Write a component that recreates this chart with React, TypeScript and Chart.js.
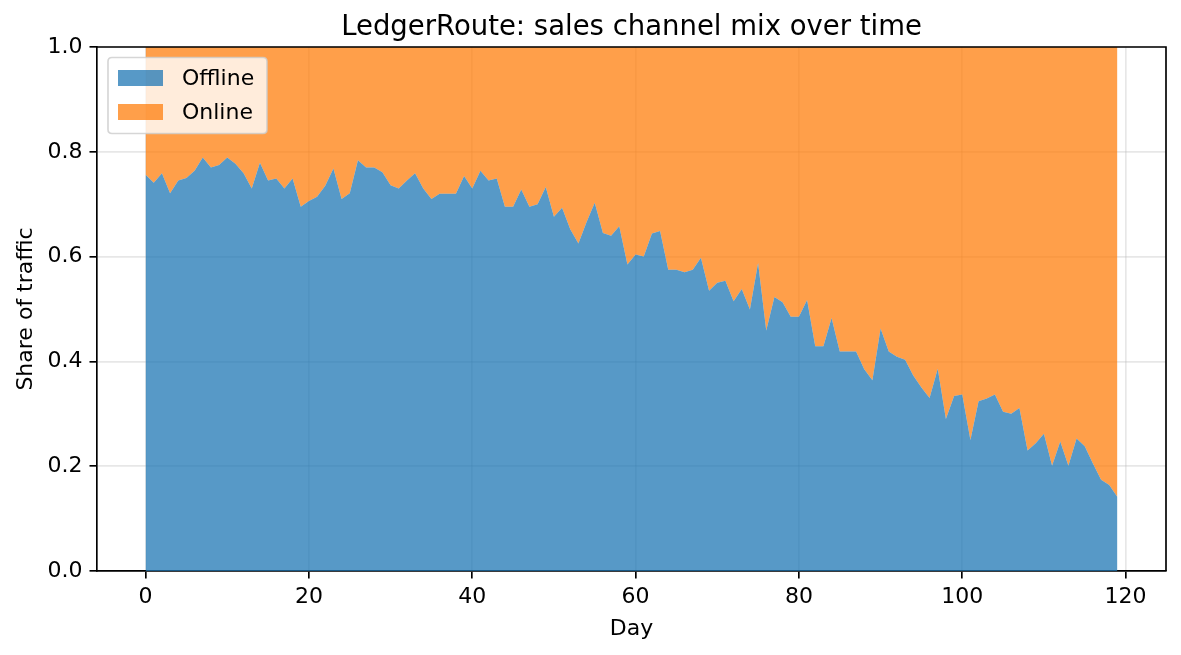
import React, { useEffect, useRef } from "react";
import { Chart, registerables } from "chart.js";

Chart.register(...registerables);

const W = 1181;
const H = 655;
const FONT = "'DejaVu Sans', 'Liberation Sans', sans-serif";
const LABEL_SIZE = 22;
const TITLE_SIZE = 27.5;

const TITLE = "LedgerRoute: sales channel mix over time";
const X_LABEL = "Day";
const Y_LABEL = "Share of traffic";
const SERIES_NAMES = ["Offline", "Online"];

// Day index 0..119
const days: number[] = Array.from({ length: 120 }, (_, i) => i);

// Offline share of traffic per day
const offlineShare: number[] = [
  0.756, 0.741, 0.759, 0.721, 0.745, 0.75, 0.764, 0.789, 0.77, 0.775,
  0.789, 0.777, 0.759, 0.73, 0.779, 0.745, 0.749, 0.73, 0.749, 0.695,
  0.706, 0.714, 0.735, 0.768, 0.71, 0.721, 0.784, 0.77, 0.77, 0.761,
  0.736, 0.73, 0.745, 0.759, 0.73, 0.71, 0.72, 0.72, 0.72, 0.754,
  0.73, 0.764, 0.745, 0.749, 0.695, 0.695, 0.728, 0.695, 0.7, 0.733,
  0.676, 0.693, 0.652, 0.625, 0.666, 0.703, 0.645, 0.64, 0.658, 0.585,
  0.604, 0.6, 0.644, 0.649, 0.575, 0.575, 0.57, 0.575, 0.598, 0.535,
  0.55, 0.554, 0.515, 0.538, 0.499, 0.588, 0.459, 0.523, 0.513, 0.485,
  0.485, 0.517, 0.429, 0.429, 0.483, 0.419, 0.419, 0.419, 0.385, 0.364,
  0.463, 0.419, 0.409, 0.403, 0.373, 0.35, 0.33, 0.386, 0.29, 0.334,
  0.337, 0.25, 0.324, 0.329, 0.337, 0.304, 0.3, 0.311, 0.23, 0.244,
  0.262, 0.201, 0.247, 0.201, 0.253, 0.238, 0.205, 0.174, 0.164, 0.141,
];

// Online share is the remainder of each day's traffic
const onlineShare: number[] = offlineShare.map((v) => 1 - v);

const xTicks: number[] = [0, 20, 40, 60, 80, 100, 120];
const yTicks: number[] = [0, 0.2, 0.4, 0.6, 0.8, 1.0];

const COLORS = ["rgba(31,119,180,0.75)", "rgba(255,127,14,0.75)"];

const frameAndText = {
  id: "frameAndText",
  afterDraw(chart: any) {
    const { ctx, chartArea } = chart;
    const { left, right, top, bottom } = chartArea;
    ctx.save();

    // top and right spines
    ctx.strokeStyle = "#000";
    ctx.lineWidth = 1.67;
    ctx.beginPath();
    ctx.moveTo(left, top);
    ctx.lineTo(right, top);
    ctx.lineTo(right, bottom);
    ctx.stroke();

    ctx.fillStyle = "#000";
    // title
    ctx.font = `${TITLE_SIZE}px ${FONT}`;
    ctx.textAlign = "center";
    ctx.textBaseline = "alphabetic";
    ctx.fillText(TITLE, (left + right) / 2, 34.5);

    // axis labels
    ctx.font = `${LABEL_SIZE}px ${FONT}`;
    ctx.fillText(X_LABEL, (left + right) / 2, 635);
    ctx.save();
    ctx.translate(32, (top + bottom) / 2);
    ctx.rotate(-Math.PI / 2);
    ctx.fillText(Y_LABEL, 0, 0);
    ctx.restore();

    // legend
    const lx = 108, ly = 57.5, lw = 159, lh = 76, r = 4;
    ctx.beginPath();
    ctx.moveTo(lx + r, ly);
    ctx.lineTo(lx + lw - r, ly);
    ctx.quadraticCurveTo(lx + lw, ly, lx + lw, ly + r);
    ctx.lineTo(lx + lw, ly + lh - r);
    ctx.quadraticCurveTo(lx + lw, ly + lh, lx + lw - r, ly + lh);
    ctx.lineTo(lx + r, ly + lh);
    ctx.quadraticCurveTo(lx, ly + lh, lx, ly + lh - r);
    ctx.lineTo(lx, ly + r);
    ctx.quadraticCurveTo(lx, ly, lx + r, ly);
    ctx.closePath();
    ctx.fillStyle = "rgba(255,255,255,0.8)";
    ctx.fill();
    ctx.strokeStyle = "rgba(204,204,204,0.8)";
    ctx.lineWidth = 1.67;
    ctx.stroke();

    const rows = [78, 112];
    SERIES_NAMES.forEach((name, i) => {
      ctx.fillStyle = COLORS[i];
      ctx.fillRect(118, rows[i] - 8, 45, 16);
      ctx.fillStyle = "#000";
      ctx.textAlign = "left";
      ctx.textBaseline = "middle";
      ctx.fillText(name, 182, rows[i] + 1);
    });

    ctx.restore();
  },
};

export default function App() {
  const canvasRef = useRef<HTMLCanvasElement | null>(null);

  useEffect(() => {
    document.body.style.margin = "0";
    const canvas = canvasRef.current;
    if (!canvas) return;

    const chart = new Chart(canvas, {
      type: "line",
      data: {
        datasets: [
          {
            label: SERIES_NAMES[0],
            data: days.map((d, i) => ({ x: d, y: offlineShare[i] })),
            backgroundColor: COLORS[0],
            borderWidth: 0,
            pointRadius: 0,
            fill: "origin",
            tension: 0,
          },
          {
            label: SERIES_NAMES[1],
            data: days.map((d, i) => ({ x: d, y: onlineShare[i] })),
            backgroundColor: COLORS[1],
            borderWidth: 0,
            pointRadius: 0,
            fill: "-1",
            tension: 0,
          },
        ],
      },
      options: {
        responsive: false,
        animation: false,
        devicePixelRatio: 1,
        layout: { padding: { left: 0, right: 15, top: 47, bottom: 0 } },
        plugins: {
          legend: { display: false },
          title: { display: false },
          tooltip: { enabled: false },
        },
        scales: {
          x: {
            type: "linear",
            min: -5.95,
            max: 124.95,
            afterBuildTicks: (scale: any) => {
              scale.ticks = xTicks.map((v) => ({ value: v }));
            },
            afterFit: (scale: any) => {
              scale.height = 84;
            },
            ticks: {
              color: "#000",
              font: { family: FONT, size: LABEL_SIZE },
              padding: 6,
              maxRotation: 0,
              autoSkip: false,
              callback: (v: any) => String(v),
            },
            grid: {
              color: "rgba(176,176,176,0.3)",
              lineWidth: 1.67,
              tickColor: "#000",
              tickLength: 7.5,
              tickWidth: 1.67,
            },
            border: { display: true, color: "#000", width: 1.67 },
          },
          y: {
            stacked: true,
            min: 0,
            max: 1,
            afterBuildTicks: (scale: any) => {
              scale.ticks = yTicks.map((v) => ({ value: v }));
            },
            afterFit: (scale: any) => {
              scale.width = 97;
            },
            ticks: {
              color: "#000",
              font: { family: FONT, size: LABEL_SIZE },
              padding: 7,
              autoSkip: false,
              callback: (v: any) => Number(v).toFixed(1),
            },
            grid: {
              color: "rgba(176,176,176,0.3)",
              lineWidth: 1.67,
              tickColor: "#000",
              tickLength: 7.5,
              tickWidth: 1.67,
            },
            border: { display: true, color: "#000", width: 1.67 },
          },
        },
      },
      plugins: [frameAndText],
    });

    return () => chart.destroy();
  }, []);

  return (
    <div style={{ position: "fixed", left: 0, top: 0, width: W, height: H, background: "#fff" }}>
      <canvas ref={canvasRef} width={W} height={H} style={{ display: "block", width: W, height: H }} />
    </div>
  );
}
